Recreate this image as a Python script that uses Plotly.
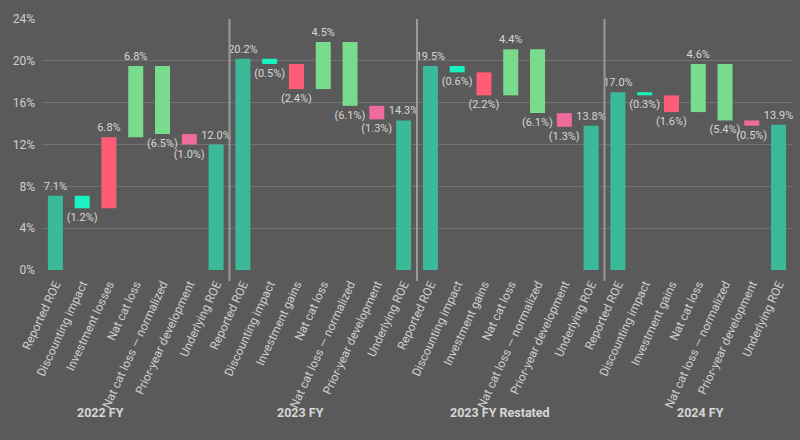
import plotly.graph_objects as go

groups = ["2022 FY", "2023 FY", "2023 FY Restated", "2024 FY"]
investment_names = ["Investment losses", "Investment gains", "Investment gains", "Investment gains"]

reported = [7.1, 20.2, 19.5, 17.0]
discounting = [-1.2, -0.5, -0.6, -0.3]
investment = [6.8, -2.4, -2.2, -1.6]
natcat = [6.8, 4.5, 4.4, 4.6]
natcat_norm = [-6.5, -6.1, -6.1, -5.4]
prior_year = [-1.0, -1.3, -1.3, -0.5]
underlying = [12.0, 14.3, 13.8, 13.9]

steps = [discounting, investment, natcat, natcat_norm, prior_year]
step_colors = ["#19f3c0", "#ff5c77", "#78dc8c", "#78dc8c", "#f06a9b"]
total_color = "#3bba9a"

BG = "#5a5a5a"
TXT = "#d6d6d6"
FONT = "Roboto"

def fmt(v):
    return f"{v:.1f}%" if v >= 0 else f"({abs(v):.1f}%)"

n_per = 7
tickvals, ticktext = [], []
for g in range(len(groups)):
    names = ["Reported ROE", "Discounting impact", investment_names[g], "Nat cat loss",
             "Nat cat loss \u2014 normalized", "Prior-year development", "Underlying ROE"]
    for k, nm in enumerate(names):
        tickvals.append(g * n_per + k)
        ticktext.append(nm)

fig = go.Figure()
common = dict(width=0.56, textposition="outside", cliponaxis=False, constraintext="none",
              textfont=dict(color=TXT, size=11, family=FONT), showlegend=False, hoverinfo="skip")

# totals
tx, ty, tt = [], [], []
for g in range(len(groups)):
    tx += [g * n_per, g * n_per + 6]
    ty += [reported[g], underlying[g]]
    tt += [fmt(reported[g]), fmt(underlying[g])]
fig.add_trace(go.Bar(x=tx, y=ty, text=tt, marker=dict(color=total_color, line=dict(width=0)), **common))

# steps
for s, (vals, col) in enumerate(zip(steps, step_colors)):
    xs, ys, bs, ts = [], [], [], []
    for g in range(len(groups)):
        level = reported[g] + sum(steps[j][g] for j in range(s))
        xs.append(g * n_per + s + 1)
        ys.append(vals[g])
        bs.append(level)
        ts.append(fmt(vals[g]))
    fig.add_trace(go.Bar(x=xs, y=ys, base=bs, text=ts,
                         marker=dict(color=col, line=dict(width=0)), **common))

L, R, T, B = 42, 8, 19, 170
W, H = 800, 440
pw, ph = W - L - R, H - T - B

shapes = []
for g in range(1, len(groups)):
    shapes.append(dict(type="line", xref="x", yref="paper", x0=g * n_per - 0.5, x1=g * n_per - 0.5,
                       y0=-11 / ph, y1=1, line=dict(color="#9a9a9a", width=2)))

annotations = []
for g, name in enumerate(groups):
    px = 100 + 200 * g
    annotations.append(dict(text=f"<b>{name}</b>", xref="paper", yref="paper",
                            x=(px - L) / pw, y=(H - B - 412) / ph, showarrow=False,
                            xanchor="center", yanchor="middle",
                            font=dict(color=TXT, size=12.5, family=FONT)))

fig.update_layout(
    width=W, height=H,
    margin=dict(l=L, r=R, t=T, b=B, autoexpand=False),
    paper_bgcolor=BG, plot_bgcolor=BG,
    barmode="overlay",
    shapes=shapes, annotations=annotations,
    font=dict(family=FONT, color=TXT),
    xaxis=dict(tickvals=tickvals, ticktext=ticktext, tickangle=-65, range=[-0.5, 27.5],
               showgrid=False, zeroline=False, showline=False, ticks="",
               ticklabelstandoff=4,
               tickfont=dict(size=12, color="#cfcfcf", family=FONT)),
    yaxis=dict(range=[0, 24], dtick=4, ticksuffix="%", showgrid=True, gridcolor="#727272",
               gridwidth=1, zeroline=False, showline=False, ticks="",
               ticklabelstandoff=6,
               tickfont=dict(size=12, color="#cfcfcf", family=FONT)),
)

fig.write_html("out.html")
